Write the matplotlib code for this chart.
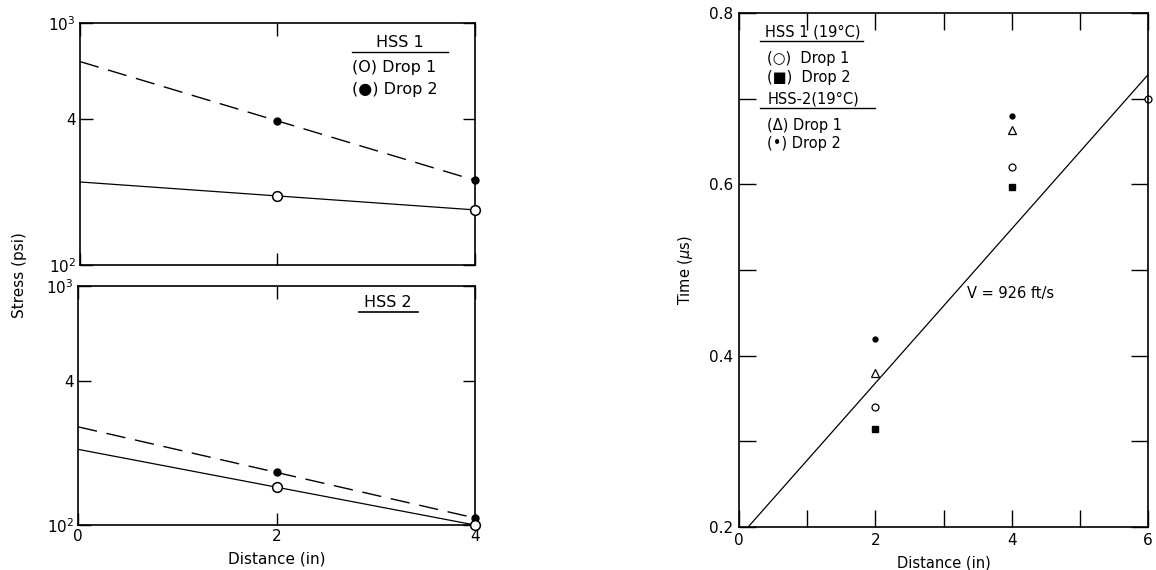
import numpy as np
import matplotlib.pyplot as plt

# Peak stress vs. gauge distance (two specimens, two drops each)
stress_dist = [2, 4]
hss1_drop1 = [193, 169]
hss1_drop2 = [394, 224]
hss2_drop1 = [144, 100]
hss2_drop2 = [166, 107]

# Arrival time vs. distance
hss1_d1_x = [2, 4, 6]
hss1_d1_t = [0.34, 0.62, 0.70]
hss1_d2_x = [2, 4]
hss1_d2_t = [0.314, 0.597]
hss2_d1_x = [2, 4]
hss2_d1_t = [0.38, 0.663]
hss2_d2_x = [2, 4]
hss2_d2_t = [0.42, 0.68]

velocity_fts = 926
time_offset = 0.188

plt.rcParams['font.family'] = 'DejaVu Sans'
plt.rcParams['mathtext.fontset'] = 'dejavusans'

fig = plt.figure(figsize=(11.56, 5.70), dpi=100)
ax1 = fig.add_axes([0.0692, 0.535, 0.3417, 0.4246])
ax2 = fig.add_axes([0.0675, 0.0789, 0.3434, 0.4193])
ax3 = fig.add_axes([0.6393, 0.0754, 0.3538, 0.9018])

dash = (14, 7)


def log_fit(x, y, xs):
    k, b = np.polyfit(x, np.log10(y), 1)
    return 10 ** (k * np.asarray(xs) + b)


def style_stress_axis(ax, show_x):
    ax.set_yscale('log')
    ax.set_xlim(0, 4)
    ax.set_ylim(100, 1000)
    ax.set_yticks([100, 400, 1000])
    ax.set_yticklabels(['$10^2$', '4', '$10^3$'])
    ax.yaxis.set_minor_locator(plt.NullLocator())
    ax.set_xticks([0, 2, 4])
    ax.tick_params(direction='in', length=9, width=1, top=True, right=True,
                   labelsize=11, pad=3)
    if not show_x:
        ax.set_xticklabels([])
    for s in ax.spines.values():
        s.set_linewidth(1.2)


xs = [0, 4]
for ax, d1, d2 in [(ax1, hss1_drop1, hss1_drop2), (ax2, hss2_drop1, hss2_drop2)]:
    ax.plot(xs, log_fit(stress_dist, d2, xs), color='black', lw=1, dashes=dash)
    ax.plot(xs, log_fit(stress_dist, d1, xs), color='black', lw=0.9)
    ax.plot(stress_dist, d2, 'o', color='black', ms=5, clip_on=False, zorder=5)
    ax.plot(stress_dist, d1, 'o', mfc='white', mec='black', mew=1.1, ms=7,
            clip_on=False, zorder=5)

style_stress_axis(ax1, False)
style_stress_axis(ax2, True)

# hand-lettered style keys
ax1.text(0.81, 0.921, 'HSS 1', transform=ax1.transAxes, ha='center', va='center', fontsize=11.5)
ax1.plot([0.689, 0.932], [0.880, 0.880], transform=ax1.transAxes, color='black', lw=1)
ax1.text(0.689, 0.818, '(O) Drop 1', transform=ax1.transAxes, ha='left', va='center', fontsize=11.5)
ax1.text(0.689, 0.727, '(●) Drop 2', transform=ax1.transAxes, ha='left', va='center', fontsize=11.5)

ax2.text(0.781, 0.929, 'HSS 2', transform=ax2.transAxes, ha='center', va='center', fontsize=11.5)
ax2.plot([0.708, 0.856], [0.891, 0.891], transform=ax2.transAxes, color='black', lw=1.2)

ax2.set_xlabel('Distance (in)', fontsize=11, labelpad=5)
fig.text(20 / 1156, 1 - 275 / 570, 'Stress (psi)', rotation=90, ha='center', va='center',
         fontsize=11)

# arrival times
slope = 1e3 / (velocity_fts * 12)
line_x = np.array([0, 6])
ax3.plot(line_x, slope * line_x + time_offset, color='black', lw=0.9)
ax3.plot(hss2_d2_x, hss2_d2_t, 'o', color='black', ms=3.5, clip_on=False)
ax3.plot(hss2_d1_x, hss2_d1_t, '^', mfc='white', mec='black', mew=0.9, ms=5.5, clip_on=False)
ax3.plot(hss1_d1_x, hss1_d1_t, 'o', mfc='white', mec='black', mew=0.9, ms=5, clip_on=False)
ax3.plot(hss1_d2_x, hss1_d2_t, 's', color='black', ms=4, clip_on=False)

ax3.set_xlim(0, 6)
ax3.set_ylim(0.2, 0.8)
ax3.set_xticks([0, 2, 4, 6])
ax3.set_xticks([1, 3, 5], minor=True)
ax3.set_yticks([0.2, 0.4, 0.6, 0.8])
ax3.set_yticklabels(['0.2', '0.4', '0.6', '0.8'])
ax3.set_yticks([0.3, 0.5, 0.7], minor=True)
ax3.tick_params(which='both', direction='in', length=12, width=1, top=True, right=True)
ax3.tick_params(labelsize=11, pad=4)
for s in ax3.spines.values():
    s.set_linewidth(1.2)
ax3.set_xlabel('Distance (in)', fontsize=10.5, labelpad=6)
ax3.set_ylabel('Time ($\\mu$s)', fontsize=10.5, labelpad=10)

ax3.text(3.35, 0.473, 'V = 926 ft/s', ha='left', va='center', fontsize=10.5)

ax3.text(0.064, 0.963, 'HSS 1 (19°C)', transform=ax3.transAxes, ha='left', va='center', fontsize=10.5)
ax3.plot([0.051, 0.303], [0.946, 0.946], transform=ax3.transAxes, color='black', lw=1)
ax3.text(0.068, 0.912, '(○)  Drop 1', transform=ax3.transAxes, ha='left', va='center', fontsize=10.5)
ax3.text(0.068, 0.874, '(■)  Drop 2', transform=ax3.transAxes, ha='left', va='center', fontsize=10.5)
ax3.text(0.071, 0.833, 'HSS-2(19°C)', transform=ax3.transAxes, ha='left', va='center', fontsize=10.5)
ax3.plot([0.051, 0.333], [0.815, 0.815], transform=ax3.transAxes, color='black', lw=1)
ax3.text(0.068, 0.782, '(Δ) Drop 1', transform=ax3.transAxes, ha='left', va='center', fontsize=10.5)
ax3.text(0.068, 0.747, '(•) Drop 2', transform=ax3.transAxes, ha='left', va='center', fontsize=10.5)

fig.savefig('out.png', dpi=100)
